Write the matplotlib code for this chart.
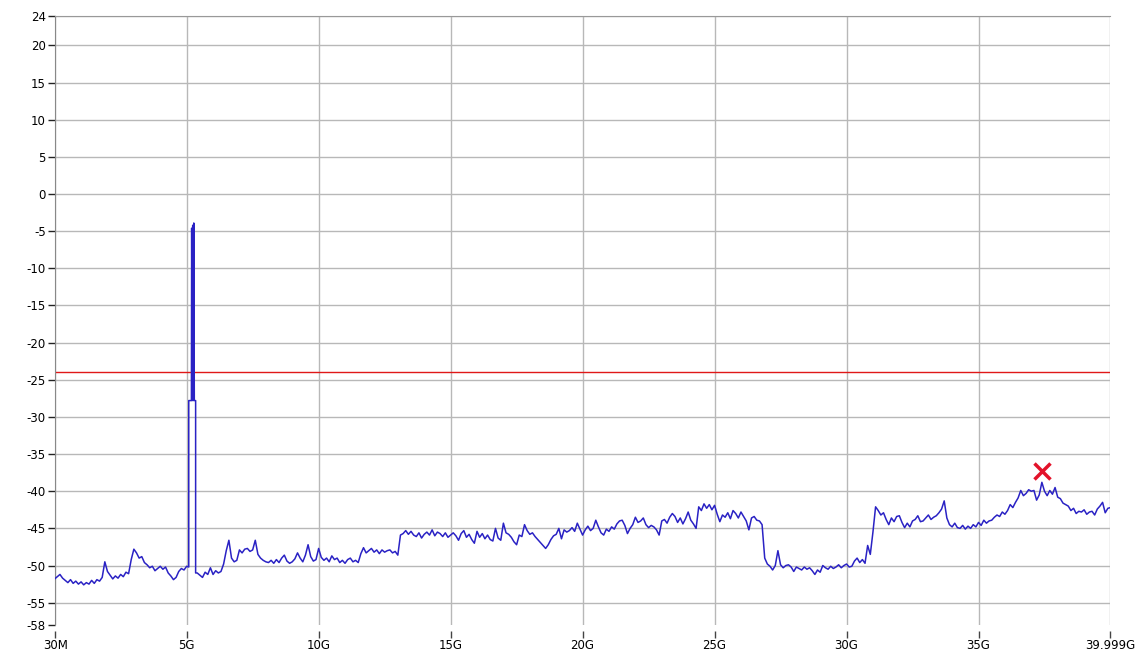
import numpy as np
import matplotlib
matplotlib.use("Agg")
import matplotlib.pyplot as plt

plt.rcParams["axes.unicode_minus"] = False

# sweep: 0..40 GHz, 0.1 GHz steps (levels in dBm)
trace_start = 0.0
trace_step = 0.1
trace_level = [
    -51.8, -51.5, -51.2, -51.7, -52.0, -52.3, -51.9, -52.4, -52.1, -52.5,
    -52.2, -52.6, -52.3, -52.5, -52.0, -52.4, -51.9, -52.1, -51.6, -49.5,
    -50.8, -51.3, -51.8, -51.4, -51.7, -51.2, -51.5, -50.9, -51.1, -49.2,
    -47.8, -48.3, -49.0, -48.8, -49.6, -49.9, -50.3, -50.1, -50.7, -50.4,
    -50.1, -50.5, -50.2, -51.0, -51.4, -51.9, -51.6, -50.8, -50.4, -50.6,
    -50.1, np.nan, np.nan, np.nan, -51.0, -51.3, -51.6, -50.9, -51.2, -50.3,
    -51.2, -50.7, -51.0, -50.8, -49.8, -48.0, -46.6, -49.0, -49.5, -49.3,
    -47.9, -48.3, -47.8, -47.7, -48.1, -47.9, -46.6, -48.5, -49.0, -49.3,
    -49.5, -49.6, -49.3, -49.7, -49.2, -49.6, -49.0, -48.6, -49.4, -49.7,
    -49.5, -49.1, -48.3, -49.0, -49.5, -48.6, -47.2, -48.8, -49.4, -49.2,
    -47.7, -48.9, -49.3, -49.0, -49.5, -48.7, -49.2, -49.0, -49.6, -49.3,
    -49.7, -49.2, -49.0, -49.5, -49.3, -49.6, -48.4, -47.6, -48.3, -48.0,
    -47.7, -48.2, -47.9, -48.4, -47.9, -48.2, -48.0, -47.9, -48.3, -48.1,
    -48.6, -45.9, -45.7, -45.3, -45.8, -45.4, -45.9, -46.1, -45.6, -46.3,
    -45.8, -45.5, -45.9, -45.2, -46.0, -45.5, -45.7, -46.1, -45.6, -46.2,
    -45.9, -45.6, -46.0, -46.6, -45.7, -45.3, -46.2, -45.8, -46.5, -47.0,
    -45.4, -46.2, -45.7, -46.4, -45.9, -46.5, -46.7, -45.0, -46.3, -46.6,
    -44.3, -45.6, -45.8, -46.2, -46.8, -47.2, -45.9, -46.1, -44.5, -45.3,
    -45.8, -45.6, -46.1, -46.5, -46.9, -47.3, -47.7, -47.2, -46.5, -46.0,
    -45.8, -45.0, -46.4, -45.2, -45.5, -45.3, -44.9, -45.4, -44.3, -45.1,
    -45.9, -45.2, -44.7, -45.3, -45.0, -43.9, -44.8, -45.6, -45.9, -45.1,
    -45.4, -44.8, -45.1, -44.4, -44.0, -43.9, -44.6, -45.7, -45.0, -44.5,
    -43.5, -44.2, -44.0, -43.6, -44.5, -44.9, -44.6, -44.8, -45.2, -45.9,
    -44.0, -43.8, -44.3, -43.5, -43.0, -43.4, -44.2, -43.6, -44.4, -43.7,
    -42.8, -43.9, -44.4, -45.0, -42.1, -42.6, -41.7, -42.3, -41.8, -42.5,
    -41.9, -43.1, -44.1, -43.2, -43.5, -42.9, -43.7, -42.6, -43.0, -43.6,
    -42.8, -43.4, -44.0, -45.2, -43.6, -43.4, -43.9, -44.0, -44.5, -49.0,
    -49.8, -50.1, -50.6, -50.0, -48.0, -49.9, -50.3, -50.0, -49.9, -50.2,
    -50.8, -50.2, -50.4, -50.6, -50.2, -50.5, -50.3, -50.7, -51.2, -50.6,
    -50.9, -50.0, -50.3, -50.5, -50.1, -50.4, -50.2, -49.9, -50.3, -50.0,
    -49.8, -50.2, -50.1, -49.4, -49.0, -49.6, -49.2, -49.7, -47.3, -48.5,
    -45.5, -42.1, -42.6, -43.2, -42.9, -43.8, -44.5, -43.6, -44.1, -43.4,
    -43.3, -44.2, -44.9, -44.3, -44.8, -44.0, -43.8, -43.3, -44.1, -44.0,
    -43.6, -43.2, -43.8, -43.5, -43.3, -42.9, -42.4, -41.3, -43.6, -44.5,
    -44.8, -44.3, -44.9, -45.0, -44.6, -45.1, -44.7, -45.0, -44.5, -44.8,
    -44.2, -44.6, -43.9, -44.3, -44.0, -43.9, -43.5, -43.2, -43.4, -42.8,
    -43.1, -42.6, -41.8, -42.2, -41.5, -40.9, -39.9, -40.6, -40.3, -39.8,
    -40.0, -39.9, -41.2, -40.5, -38.8, -40.0, -40.6, -39.9, -40.4, -39.5,
    -40.8, -41.0, -41.6, -41.8, -42.0, -42.6, -42.3, -43.0, -42.7, -42.8,
    -42.5, -43.1, -42.8, -42.7, -43.2, -42.4, -42.0, -41.5, -42.9, -42.3,
    -42.2,
]

# the 5.2 GHz carrier
spike_freq = [5.08, 5.08, 5.18, 5.19, 5.21, 5.23, 5.25, 5.27, 5.29, 5.30, 5.34, 5.34]
spike_level = [-50.2, -27.8, -27.8, -4.6, -27.8, -4.2, -27.8, -3.9, -27.8, -27.8, -27.8, -51.0]

limit_line = -24.0
marker_freq = 37.4
marker_level = -37.3

yticks = [24, 20, 15, 10, 5, 0, -5, -10, -15, -20, -25, -30, -35, -40, -45, -50, -55, -58]
xticks = [0.03, 5, 10, 15, 20, 25, 30, 35, 39.999]
xticklabels = ["30M", "5G", "10G", "15G", "20G", "25G", "30G", "35G", "39.999G"]

level = np.array(trace_level)
freq = trace_start + trace_step * np.arange(len(level))
before = freq < spike_freq[0]
after = freq > spike_freq[-1]
f_all = np.concatenate([freq[before], spike_freq, freq[after]])
l_all = np.concatenate([level[before], spike_level, level[after]])

fig = plt.figure(figsize=(11.46, 6.56), dpi=100)
ax = fig.add_axes([0.0484, 0.0473, 0.9206, 0.9288])

ax.plot(f_all, l_all, color="#2a22c4", lw=1.1, zorder=3)
ax.axhline(limit_line, color="#e01818", lw=1.0, zorder=2)
ax.plot([marker_freq], [marker_level], marker="x", color="#e3122a",
        markersize=11, mew=2.5, zorder=4)

ax.set_xlim(0.03, 39.999)
ax.set_ylim(-58, 24)
ax.set_yticks(yticks)
ax.set_xticks(xticks)
ax.set_xticklabels(xticklabels)

ax.grid(True, color="#b8b8b8", lw=1.0, zorder=0)
ax.get_ygridlines()[-1].set_visible(False)
ax.get_xgridlines()[0].set_visible(False)
ax.get_xgridlines()[-1].set_visible(False)

for s in ["right", "bottom"]:
    ax.spines[s].set_visible(False)
ax.spines["left"].set_color("#888888")
ax.spines["top"].set_color("#999999")
ax.spines["bottom"].set_position(("outward", 4))

ax.tick_params(axis="y", length=5, width=1, color="#222222", labelsize=8.5, pad=2)
ax.tick_params(axis="x", length=5, width=1, color="#444444", labelsize=8.5, pad=1)

fig.savefig("out.png", dpi=100)
